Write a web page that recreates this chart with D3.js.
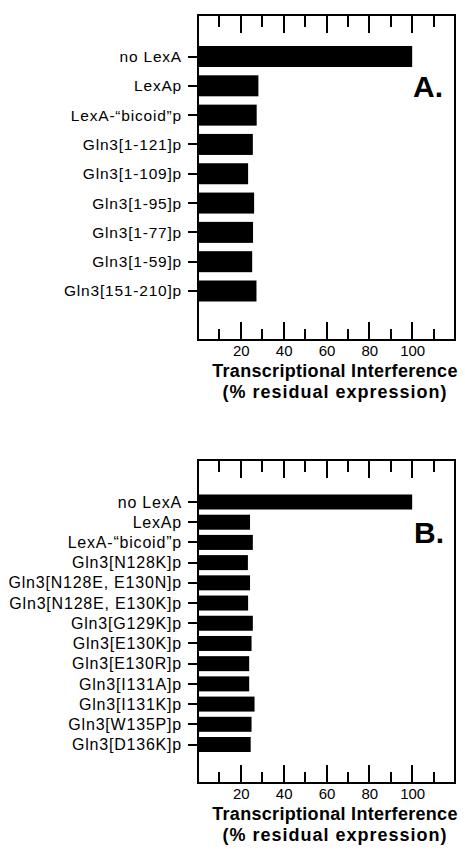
<!DOCTYPE html>
<html><head><meta charset="utf-8">
<script src="https://cdn.jsdelivr.net/npm/d3@7"></script>
<style>
body{margin:0;background:#fff;}
svg{display:block;font-family:"Liberation Sans",Arial,Helvetica,sans-serif;}
</style></head>
<body>
<svg id="chart" width="465" height="852"></svg>
<script>
const labelsA = ["no LexA","LexAp","LexA-\u201Cbicoid\u201Dp","Gln3[1-121]p","Gln3[1-109]p","Gln3[1-95]p","Gln3[1-77]p","Gln3[1-59]p","Gln3[151-210]p"];
const valuesA = [100, 28.2, 27.4, 25.6, 23.4, 26.2, 25.7, 25.3, 27.3];
const labelsB = ["no LexA","LexAp","LexA-\u201Cbicoid\u201Dp","Gln3[N128K]p","Gln3[N128E, E130N]p","Gln3[N128E, E130K]p","Gln3[G129K]p","Gln3[E130K]p","Gln3[E130R]p","Gln3[I131A]p","Gln3[I131K]p","Gln3[W135P]p","Gln3[D136K]p"];
const valuesB = [100, 24.3, 25.6, 23.3, 24.3, 23.4, 25.6, 25.0, 23.9, 23.9, 26.4, 25.0, 24.6];
const majorTicks = [20, 40, 60, 80, 100];
const minorTicks = [10, 30, 50, 70, 90, 110];
const xDomain = [0, 120];
const axisTitle = ["Transcriptional Interference", "(% residual expression)"];

const svg = d3.select("#chart");

function panel(cfg) {
  const x = d3.scaleLinear().domain(xDomain).range([cfg.left, cfg.right]);
  const y = d3.scalePoint().domain(cfg.labels).range(cfg.yRange);
  const g = svg.append("g");

  // bars
  g.selectAll("rect.bar").data(cfg.values).join("rect")
    .attr("class", "bar")
    .attr("x", x(0))
    .attr("y", (d, i) => y(cfg.labels[i]) - cfg.barH / 2)
    .attr("width", d => x(d) - x(0))
    .attr("height", cfg.barH)
    .attr("fill", "#000");

  // frame + inward ticks + category ticks, one stroked path built from the scales
  const p = d3.path();
  p.rect(cfg.left, cfg.top, cfg.right - cfg.left, cfg.bottom - cfg.top);
  majorTicks.forEach(v => {
    const px = Math.round(x(v));
    p.moveTo(px, cfg.bottom); p.lineTo(px, cfg.bottom - 18);
    p.moveTo(px, cfg.top); p.lineTo(px, cfg.top + 18);
  });
  minorTicks.forEach(v => {
    const px = Math.round(x(v));
    p.moveTo(px, cfg.bottom); p.lineTo(px, cfg.bottom - 11);
    p.moveTo(px, cfg.top); p.lineTo(px, cfg.top + 12);
  });
  cfg.labels.forEach(l => {
    const py = Math.round(y(l));
    p.moveTo(cfg.left, py); p.lineTo(cfg.left - 10, py);
  });
  g.append("path").attr("d", p.toString())
    .attr("fill", "none").attr("stroke", "#000").attr("stroke-width", 2);

  // numeric labels via d3 axis
  const bAx = g.append("g").attr("transform", `translate(0,${cfg.bottom})`)
    .call(d3.axisBottom(x).tickValues(majorTicks).tickSize(0).tickPadding(5).tickFormat(d3.format("d")));
  bAx.select(".domain").remove();
  bAx.selectAll(".tick line").remove();
  bAx.selectAll("text").attr("font-size", 15).attr("fill", "#000")
    .style("font-family", "'Liberation Sans',Arial,sans-serif");

  // category labels via d3 axis
  const la = g.append("g").attr("transform", `translate(${cfg.left},0)`)
    .call(d3.axisLeft(y).tickSize(0).tickPadding(16));
  la.select(".domain").remove();
  la.selectAll(".tick line").remove();
  la.selectAll("text").attr("font-size", cfg.fs).attr("fill", "#000")
    .style("letter-spacing", cfg.ls + "px")
    .style("font-family", "'Liberation Sans',Arial,sans-serif");

  g.append("text").attr("x", cfg.letterX).attr("y", cfg.letterY)
    .attr("font-size", 30).attr("font-weight", "bold").text(cfg.letter);

  g.selectAll("text.title").data(axisTitle).join("text")
    .attr("class", "title")
    .attr("x", 335)
    .attr("y", (d, i) => cfg.bottom + 37 + i * 21)
    .attr("text-anchor", "middle")
    .attr("font-size", 18).attr("font-weight", "bold")
    .style("letter-spacing", (d, i) => i === 0 ? "0.3px" : "1px")
    .text(d => d);
}

panel({labels: labelsA, values: valuesA, left: 198, right: 455, top: 15, bottom: 340,
  yRange: [56.5, 291], barH: 21, letter: "A.", letterX: 413, letterY: 97, fs: 15.5, ls: 0.8});
panel({labels: labelsB, values: valuesB, left: 198, right: 455, top: 460, bottom: 783,
  yRange: [502, 744.5], barH: 15, letter: "B.", letterX: 414, letterY: 543, fs: 16, ls: 0.8});
</script>
</body></html>
